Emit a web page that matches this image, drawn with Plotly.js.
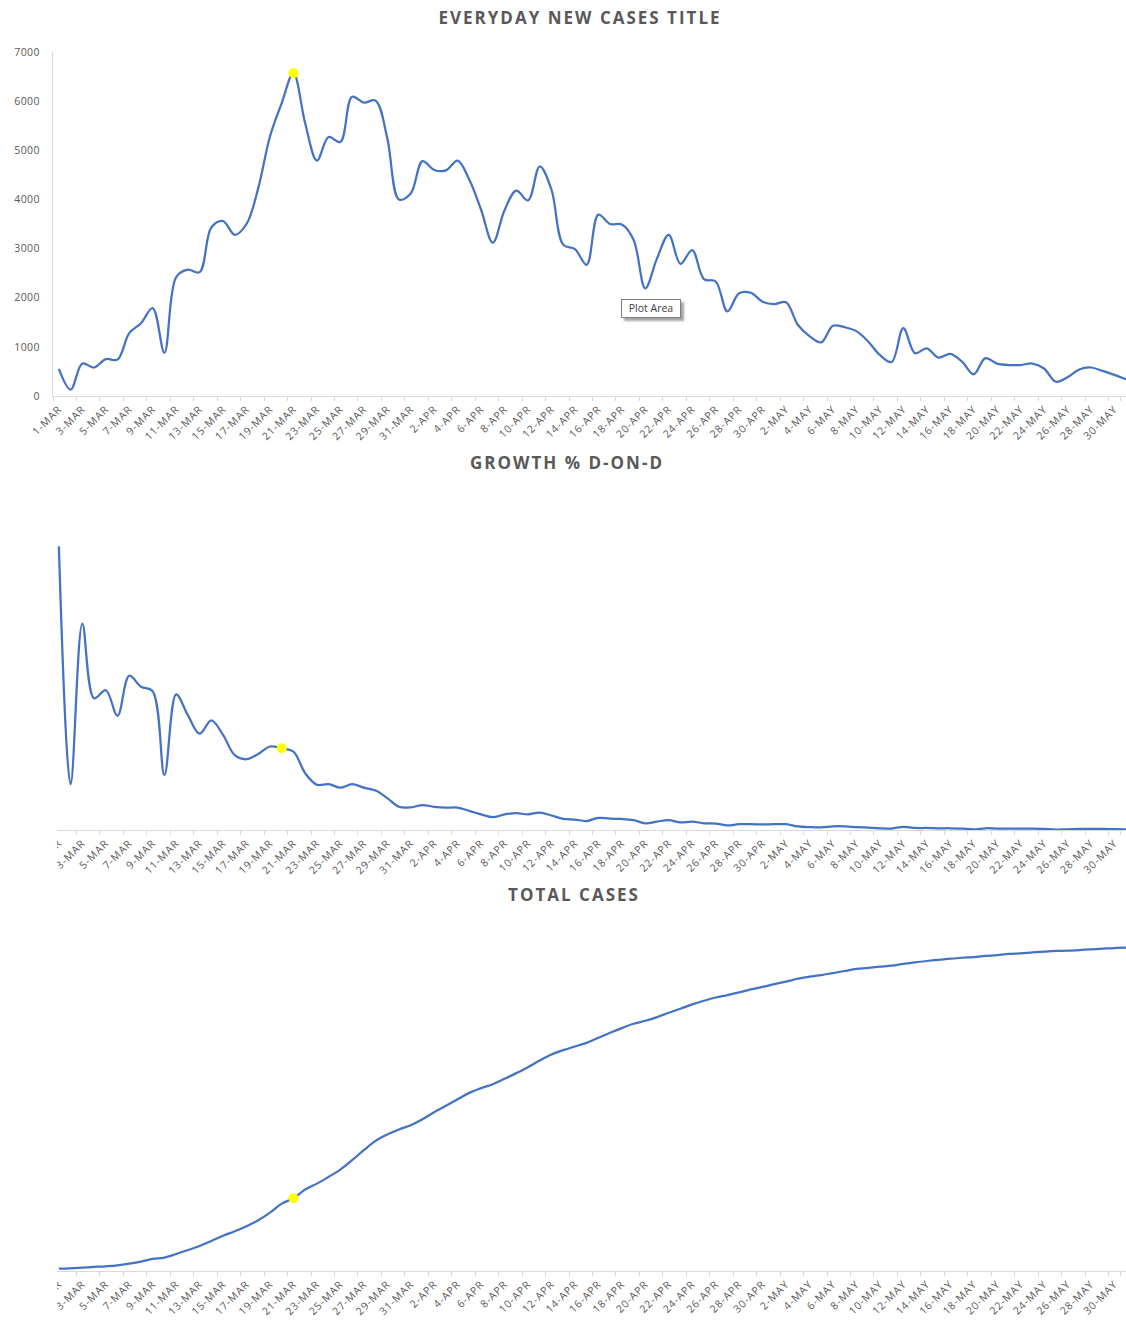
<!DOCTYPE html>
<html>
<head>
<meta charset="utf-8">
<script src="https://cdn.plot.ly/plotly-3.0.1.min.js"></script>
<style>
  html, body { margin:0; padding:0; background:#fff; width:1126px; height:1322px; overflow:hidden; position:relative; }
  .panel { position:absolute; left:0; width:1132px; }
  .clip { position:absolute; overflow:hidden; }
  .gtitle { letter-spacing:2px; }
  .xtick text { letter-spacing:0.9px; }
  .ytick text { letter-spacing:0.4px; }
  #tip { position:absolute; left:621px; top:299px; width:58px; height:17px; border:1px solid #7f7f7f; background:#fff;
         box-shadow:3px 3px 2px rgba(0,0,0,0.35); font-family:"Open Sans", sans-serif; font-size:10.5px; color:#404040;
         line-height:17px; text-align:center; }
</style>
</head>
<body>
<div id="p1" class="panel" style="top:0;height:445px"></div>
<div class="clip" style="left:57px;top:445px;width:1069px;height:432px">
  <div id="p2" style="position:absolute;left:-57px;top:0;width:1132px;height:432px"></div>
</div>
<div class="clip" style="left:57px;top:877px;width:1069px;height:445px">
  <div id="p3" style="position:absolute;left:-57px;top:0;width:1132px;height:445px"></div>
</div>
<div id="tip">Plot Area</div>
<script>
const dates = [
  "1-MAR","2-MAR","3-MAR","4-MAR","5-MAR","6-MAR","7-MAR","8-MAR","9-MAR","10-MAR",
  "11-MAR","12-MAR","13-MAR","14-MAR","15-MAR","16-MAR","17-MAR","18-MAR","19-MAR","20-MAR",
  "21-MAR","22-MAR","23-MAR","24-MAR","25-MAR","26-MAR","27-MAR","28-MAR","29-MAR","30-MAR","31-MAR",
  "1-APR","2-APR","3-APR","4-APR","5-APR","6-APR","7-APR","8-APR","9-APR","10-APR",
  "11-APR","12-APR","13-APR","14-APR","15-APR","16-APR","17-APR","18-APR","19-APR","20-APR",
  "21-APR","22-APR","23-APR","24-APR","25-APR","26-APR","27-APR","28-APR","29-APR","30-APR",
  "1-MAY","2-MAY","3-MAY","4-MAY","5-MAY","6-MAY","7-MAY","8-MAY","9-MAY","10-MAY",
  "11-MAY","12-MAY","13-MAY","14-MAY","15-MAY","16-MAY","17-MAY","18-MAY","19-MAY","20-MAY",
  "21-MAY","22-MAY","23-MAY","24-MAY","25-MAY","26-MAY","27-MAY","28-MAY","29-MAY","30-MAY","31-MAY"
];

const newCases = [
  550,130,660,580,750,740,1280,1480,1790,880,
  2420,2570,2520,3430,3560,3280,3500,4230,5280,5960,
  6570,5550,4790,5270,5170,6090,5970,6010,5250,4000,
  4120,4780,4600,4590,4790,4400,3790,3120,3780,4180,
  3980,4670,4200,3080,2990,2670,3690,3500,3490,3180,
  2190,2800,3280,2690,2970,2380,2330,1720,2090,2100,
  1920,1870,1910,1450,1220,1090,1430,1400,1320,1110,
  835,690,1380,870,970,780,855,700,440,770,
  660,630,630,660,560,290,380,540,580,510,
  430,340
];

const growthPct = [
  48.9,7.9,35.6,22.7,24.1,19.7,26.6,24.7,23.9,9.5,
  23.4,19.8,16.6,18.9,16.4,12.9,12.2,13.1,14.4,14.1,
  13.5,9.8,7.8,7.9,7.3,7.9,7.3,6.8,5.5,4.0,
  3.9,4.3,4.0,3.85,3.85,3.3,2.7,2.2,2.7,2.9,
  2.7,3.0,2.5,1.9,1.8,1.55,2.1,1.95,1.9,1.7,
  1.15,1.45,1.7,1.3,1.45,1.15,1.1,0.8,1.0,1.0,
  0.95,1.0,1.0,0.63,0.5,0.45,0.63,0.63,0.5,0.4,
  0.3,0.25,0.55,0.35,0.35,0.3,0.3,0.25,0.12,0.3,
  0.25,0.25,0.25,0.25,0.18,0.08,0.12,0.18,0.18,0.18,
  0.14,0.12
];

// total cases, thousands
const totalCases = [
  1.7,2.0,2.5,3.0,3.5,4.2,5.4,6.9,8.9,9.9,
  12.6,15.5,18.5,22.2,26.1,29.4,33.1,37.5,43.2,49.8,
  53.8,60.2,64.6,69.6,75.0,81.9,89.3,96.2,100.9,104.6,
  107.8,112.2,117.4,122.1,127.0,131.7,135.2,138.1,142.1,146.3,
  150.7,155.6,160.1,163.3,166.0,168.7,172.4,176.1,179.6,182.8,
  185.0,187.7,190.9,193.9,197.1,199.8,202.2,204.0,206.0,208.2,
  210.0,212.1,213.9,216.1,217.6,218.8,220.3,221.8,223.3,224.2,
  225.0,225.7,227.0,228.2,229.2,230.1,230.9,231.6,232.1,232.9,
  233.6,234.4,234.8,235.5,236.1,236.6,236.8,237.3,237.8,238.3,
  238.8,239.0
];

const yTicks1 = [0,1000,2000,3000,4000,5000,6000,7000];
const highlightNew = 20, highlightGrowth = 19, highlightTotal = 20;
const titles = ["EVERYDAY NEW CASES TITLE", "GROWTH % D-ON-D", "TOTAL CASES"];

const labelDates = dates.filter((d, i) => i % 2 === 0);
const GREY = '#595959', AXIS = '#d9d9d9', BLUE = '#4472C4';
const FONT = '"Open Sans", "Noto Sans", sans-serif';
const W = 1132;

function traces(y, hi) {
  return [
    { x: dates, y: y, type: 'scatter', mode: 'lines', hoverinfo: 'skip',
      line: { color: BLUE, width: 2.25, shape: 'spline', smoothing: 1 } },
    { x: [dates[hi]], y: [y[hi]], type: 'scatter', mode: 'markers', hoverinfo: 'skip',
      marker: { color: '#FFFF00', size: 10, line: { width: 0 } } }
  ];
}

function layout(h, title, tx, t, b, yaxis) {
  return {
    width: W, height: h,
    margin: { l: 52.9, r: 0, t: t, b: b, pad: 0 },
    paper_bgcolor: '#fff', plot_bgcolor: '#fff', showlegend: false,
    font: { family: FONT, color: GREY },
    title: { text: title, x: tx / W, xanchor: 'center', xref: 'container', y: 1 - 18 / h, yref: 'container', yanchor: 'middle',
             font: { family: FONT, size: 17, color: GREY, weight: 700 } },
    xaxis: { type: 'category', range: [-0.5, dates.length - 0.5], tickmode: 'array', tickvals: labelDates, ticktext: labelDates,
             tickson: 'boundaries', ticks: 'outside', ticklen: 4, tickwidth: 1, tickcolor: AXIS, tickangle: -45,
             ticklabelstandoff: 2,
             showline: true, linecolor: AXIS, linewidth: 1, showgrid: false, zeroline: false, automargin: false,
             tickfont: { family: FONT, size: 10.5, color: GREY }, fixedrange: true },
    yaxis: yaxis
  };
}

const cfg = { staticPlot: true, displayModeBar: false };

Plotly.newPlot('p1', traces(newCases, highlightNew),
  layout(445, titles[0], 580, 52.3, 49, {
    range: [0, 7000], tickmode: 'array', tickvals: yTicks1, ticktext: yTicks1.map(String),
    showline: true, linecolor: AXIS, linewidth: 1, ticks: '', showgrid: false, zeroline: false, automargin: false,
    ticklabelstandoff: 10, tickfont: { family: FONT, size: 10.5, color: GREY }, fixedrange: true
  }), cfg);

Plotly.newPlot('p2', traces(growthPct, highlightGrowth),
  layout(432, titles[1], 567, 65, 47, {
    range: [0, 320 / 5.8], visible: false, fixedrange: true
  }), cfg);

Plotly.newPlot('p3', traces(totalCases, highlightTotal),
  layout(445, titles[2], 574, 53, 51.3, {
    range: [0, 340.7 * 0.74], visible: false, fixedrange: true
  }), cfg);
</script>
</body>
</html>
